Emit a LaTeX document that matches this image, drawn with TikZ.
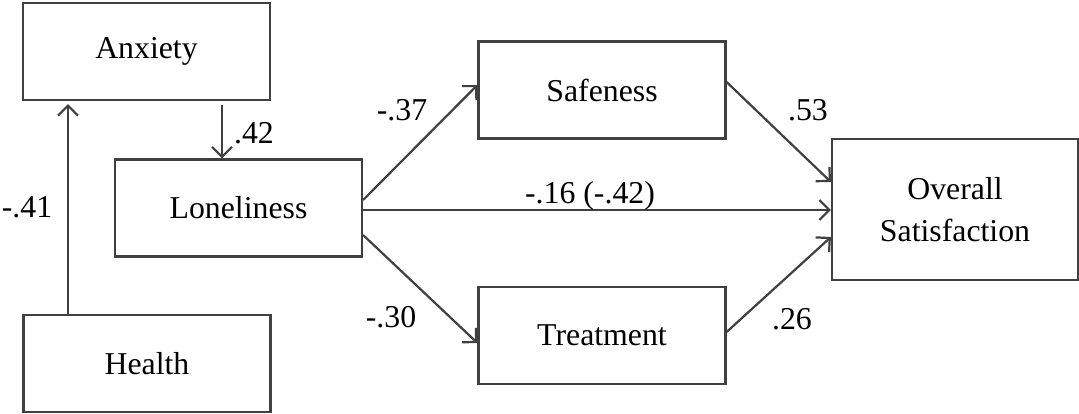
\documentclass[tikz,border=0pt]{standalone}
\usepackage{fontspec}
\setmainfont{Liberation Serif}
\usetikzlibrary{arrows.meta, positioning}
\definecolor{linegray}{HTML}{404040}
\tikzset{
  >={Straight Barb[length=5pt, width=10pt]},
  var/.style={draw=linegray, line width=1.1pt, minimum width=123.5pt,
    minimum height=48.5pt, inner sep=0pt, align=center,
    font=\fontsize{15.9}{21}\selectfont},
  coef/.style={inner sep=0pt, font=\fontsize{15.9}{18}\selectfont},
  link/.style={->, draw=linegray, line width=1.1pt}
}

\begin{document}
\begin{tikzpicture}[x=0.5pt, y=-0.5pt]
    \useasboundingbox (0,0) rectangle (1079,413);

    \node[var] (anxiety) at (146.5,51.5) {Anxiety};
    \node[var] (loneliness) at (238.5,208) {Loneliness};
    \node[var] (health) at (147,363.5) {Health};
    \node[var] (safeness) at (602,90) {Safeness};
    \node[var] (treatment) at (602,335.5) {Treatment};
    \node[var, minimum width=123pt, minimum height=70.5pt] (overall) at (955,209.5) {Overall\\Satisfaction};

    \coordinate (ax) at (222,0);
    \coordinate (hx) at (68,0);

    \draw[link, shorten <=2pt] (anxiety.south -| ax) -- (loneliness.north -| ax);
    \draw[link, shorten >=1.5pt] (health.north -| hx) -- (anxiety.south -| hx);
    \draw[link] ([yshift=4pt]loneliness.east) -- ([yshift=2.5pt]safeness.west);
    \draw[link] ([yshift=-1pt]loneliness.east) -- ([yshift=-1pt]loneliness.east -| overall.west);
    \draw[link] ([yshift=-13.5pt]loneliness.east) -- ([yshift=-3.75pt]treatment.west);
    \draw[link] ([yshift=4pt]safeness.east) -- ([yshift=13.75pt]overall.west);
    \draw[link] ([yshift=1.75pt]treatment.east) -- ([yshift=-13.75pt]overall.west);

    % path coefficients
    \node[coef] (c-al) at (254,133) {.42};
    \node[coef] (c-ha) at (27,207) {-.41};
    \node[coef] (c-ls) at (402,110) {-.37};
    \node[coef] (c-lo) at (590,196) {-.16 (-.42)};
    \node[coef] (c-lt) at (391,317) {-.30};
    \node[coef] (c-so) at (808,110) {.53};
    \node[coef] (c-to) at (792,319) {.26};
\end{tikzpicture}
\end{document}
